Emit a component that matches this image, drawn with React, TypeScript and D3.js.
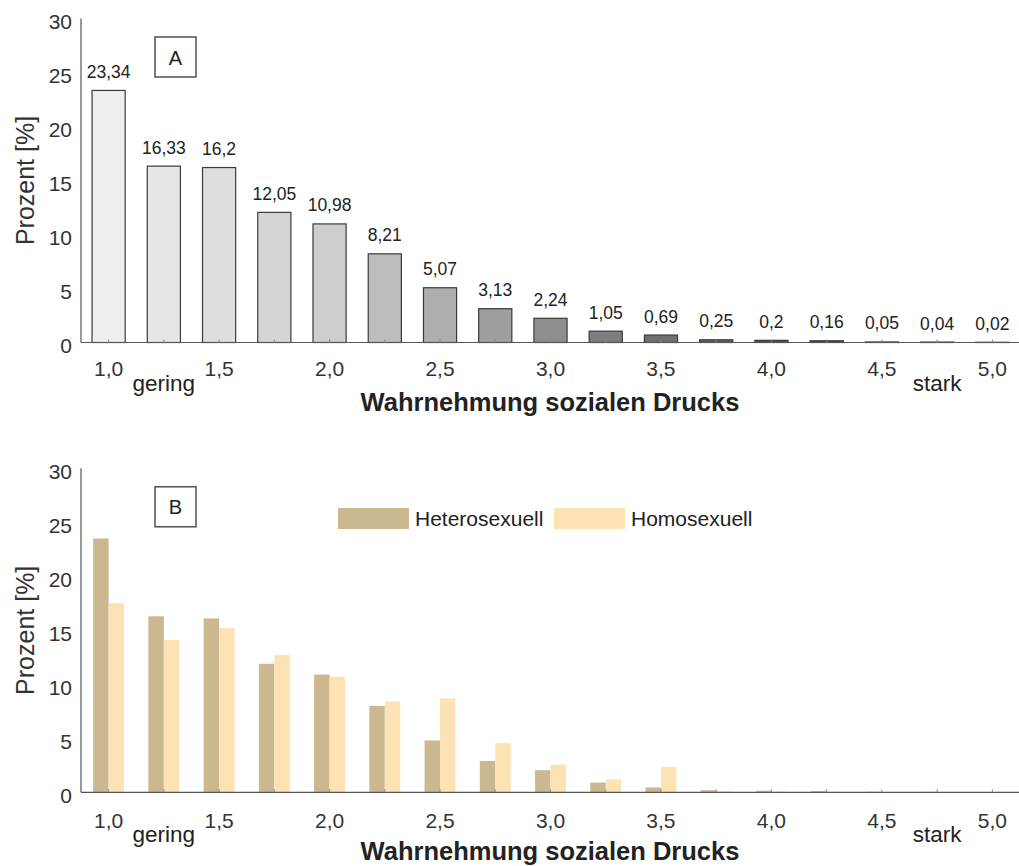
import React from "react";
import * as d3 from "d3";

// Response categories on the 1–5 scale (step 0.25)
const categories = [1.0, 1.25, 1.5, 1.75, 2.0, 2.25, 2.5, 2.75, 3.0, 3.25, 3.5, 3.75, 4.0, 4.25, 4.5, 4.75, 5.0];

// Panel A: share of all respondents (%)
const totalPercent = [23.34, 16.33, 16.2, 12.05, 10.98, 8.21, 5.07, 3.13, 2.24, 1.05, 0.69, 0.25, 0.2, 0.16, 0.05, 0.04, 0.02];

// Panel B: by sexual orientation (%)
const heteroPercent = [23.5, 16.3, 16.1, 11.9, 10.9, 8.0, 4.8, 2.9, 2.05, 0.9, 0.45, 0.2, 0.15, 0.12, 0.05, 0.04, 0.02];
const homoPercent = [17.5, 14.1, 15.2, 12.7, 10.7, 8.4, 8.7, 4.55, 2.55, 1.2, 2.35, 0.1, 0.08, 0.05, 0.0, 0.0, 0.0];

const seriesNames = ["Heterosexuell", "Homosexuell"];

const xTickValues = [1.0, 1.5, 2.0, 2.5, 3.0, 3.5, 4.0, 4.5, 5.0];
const xTickLabels = ["1,0", "1,5", "2,0", "2,5", "3,0", "3,5", "4,0", "4,5", "5,0"];
const yTickValues = [0, 5, 10, 15, 20, 25, 30];

const endLabels = [
  { at: 1.25, text: "gering" },
  { at: 4.75, text: "stark" },
];

const FONT = "'Liberation Sans', Arial, Helvetica, sans-serif";
const W = 1019;
const H = 866;

const x = d3.scaleLinear().domain([0.875, 5.125]).range([81, 1020]);
const step = x(1.25) - x(1.0);

const grayScale = d3
  .scaleLinear<string>()
  .domain([0, 4, 8, 12, 16])
  .range(["#eeeeee", "#cdcdcd", "#8e8e8e", "#4f4f4f", "#383838"])
  .interpolate(d3.interpolateRgb);

const heteroColor = "#cbb891";
const homoColor = "#fde3b3";

const fmt = (v: number) => String(v).replace(".", ",");

type AxesProps = {
  y: d3.ScaleLinear<number, number>;
  letter: string;
  tickBase: number;
  endBase: number;
  titleBase: number;
};

function Axes({ y, letter, tickBase, endBase, titleBase }: AxesProps) {
  const base = y(0);
  const top = y(30);
  const mid = (top + base) / 2;
  const boxTop = top + 18.5;
  return (
    <g>
      {/* y axis */}
      <line x1={81} x2={81} y1={top} y2={base} stroke="#555" strokeWidth={1.2} />
      {yTickValues.map((t) => (
        <text
          key={t}
          x={72}
          y={y(t) + 3}
          textAnchor="end"
          dominantBaseline="central"
          fontSize={21}
          fill="#333"
          fontFamily={FONT}
        >
          {t}
        </text>
      ))}
      <text
        transform={`translate(25,${mid}) rotate(-90)`}
        textAnchor="middle"
        dominantBaseline="central"
        fontSize={25}
        fill="#333"
        fontFamily={FONT}
      >
        Prozent [%]
      </text>
      {/* x axis */}
      <line x1={81} x2={W} y1={base} y2={base} stroke="#555" strokeWidth={1.2} />
      {categories.map((c) => (
        <line key={c} x1={x(c)} x2={x(c)} y1={base} y2={base - 3} stroke="#888" strokeWidth={1} />
      ))}
      {xTickValues.map((t, i) => (
        <text key={t} x={x(t)} y={tickBase} textAnchor="middle" fontSize={21} fill="#333" fontFamily={FONT}>
          {xTickLabels[i]}
        </text>
      ))}
      {endLabels.map((e) => (
        <text key={e.text} x={x(e.at)} y={endBase} textAnchor="middle" fontSize={22.5} fill="#222" fontFamily={FONT}>
          {e.text}
        </text>
      ))}
      <text
        x={(81 + W) / 2}
        y={titleBase}
        textAnchor="middle"
        fontSize={25.5}
        fontWeight="bold"
        fill="#222"
        fontFamily={FONT}
      >
        Wahrnehmung sozialen Drucks
      </text>
      {/* panel letter */}
      <rect x={155} y={boxTop} width={41} height={40} fill="#fff" stroke="#444" strokeWidth={1.4} />
      <text
        x={175.5}
        y={boxTop + 20.5}
        textAnchor="middle"
        dominantBaseline="central"
        fontSize={20}
        fill="#222"
        fontFamily={FONT}
      >
        {letter}
      </text>
    </g>
  );
}

function PanelA() {
  const y = d3.scaleLinear().domain([0, 30]).range([342.5, 18.5]);
  const bw = step * 0.6;
  return (
    <g>
      {totalPercent.map((v, i) => {
        const cx = x(categories[i]);
        return (
          <g key={i}>
            <rect
              x={cx - bw / 2}
              y={y(v)}
              width={bw}
              height={y(0) - y(v)}
              fill={grayScale(i)}
              stroke="#3a3a3a"
              strokeWidth={1.2}
            />
            <text
              x={cx}
              y={y(v) - 12.5}
              textAnchor="middle"
              fontSize={17.5}
              fill="#222"
              fontFamily={FONT}
            >
              {fmt(v)}
            </text>
          </g>
        );
      })}
      <Axes y={y} letter="A" tickBase={376} endBase={391} titleBase={411} />
    </g>
  );
}

function PanelB() {
  const y = d3.scaleLinear().domain([0, 30]).range([792.3, 468.3]);
  const bw = step * 0.28;
  const series = [heteroPercent, homoPercent];
  const colors = [heteroColor, homoColor];
  return (
    <g>
      {series.map((vals, s) =>
        vals.map((v, i) => {
          const cx = x(categories[i]);
          const left = s === 0 ? cx - bw : cx;
          return (
            <rect
              key={`${s}-${i}`}
              x={left}
              y={y(v)}
              width={bw}
              height={y(0) - y(v)}
              fill={colors[s]}
            />
          );
        })
      )}
      <Axes y={y} letter="B" tickBase={828} endBase={842} titleBase={860} />
      {/* legend */}
      {seriesNames.map((name, s) => {
        const lx = s === 0 ? 338 : 554;
        return (
          <g key={name}>
            <rect x={lx} y={508} width={71} height={21} fill={colors[s]} />
            <text
              x={lx + 77}
              y={518.5}
              dominantBaseline="central"
              fontSize={21}
              fill="#222"
              fontFamily={FONT}
            >
              {name}
            </text>
          </g>
        );
      })}
    </g>
  );
}

export default function App() {
  return (
    <svg
      width={W}
      height={H}
      viewBox={`0 0 ${W} ${H}`}
      style={{ position: "absolute", left: 0, top: 0, background: "#fff" }}
    >
      <rect x={0} y={0} width={W} height={H} fill="#fff" />
      <PanelA />
      <PanelB />
    </svg>
  );
}
